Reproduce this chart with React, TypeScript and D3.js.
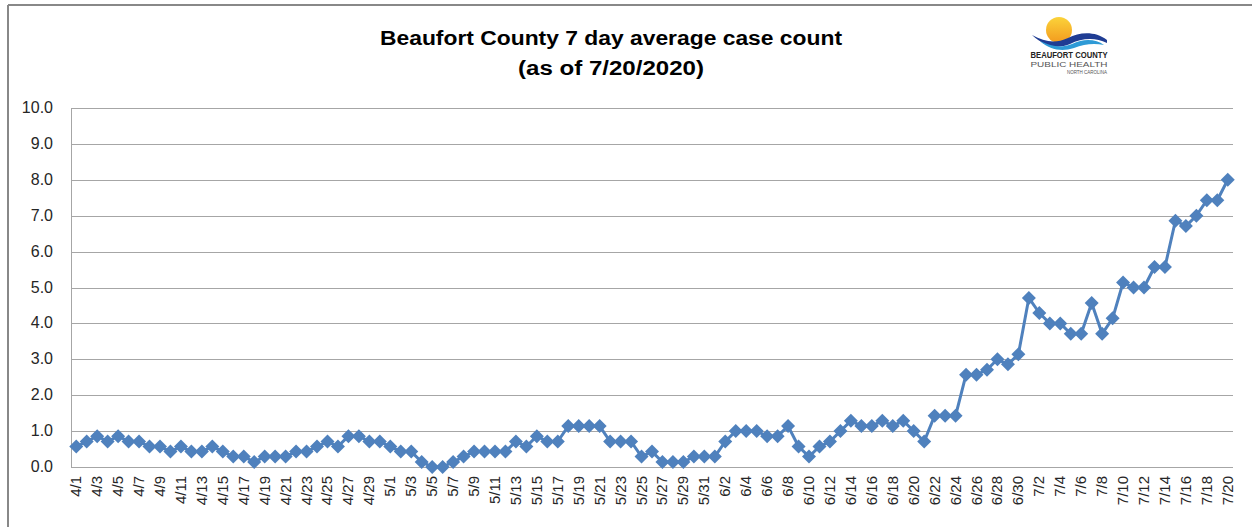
import React from 'react'
import * as d3 from 'd3'

// 7 day average, 4/1 .. 7/20
const aprilValues = [0.57, 0.71, 0.86, 0.71, 0.86, 0.71, 0.71, 0.57, 0.57, 0.43, 0.57, 0.43, 0.43, 0.57, 0.43, 0.29, 0.29, 0.14, 0.29, 0.29, 0.29, 0.43, 0.43, 0.57, 0.71, 0.57, 0.86, 0.86, 0.71, 0.71]
const mayValues = [0.57, 0.43, 0.43, 0.14, 0, 0, 0.14, 0.29, 0.43, 0.43, 0.43, 0.43, 0.71, 0.57, 0.86, 0.71, 0.71, 1.14, 1.14, 1.14, 1.14, 0.71, 0.71, 0.71, 0.29, 0.43, 0.14, 0.14, 0.14, 0.29, 0.29]
const juneValues = [0.29, 0.71, 1.0, 1.0, 1.0, 0.86, 0.86, 1.14, 0.57, 0.29, 0.57, 0.71, 1.0, 1.29, 1.14, 1.14, 1.29, 1.14, 1.29, 1.0, 0.71, 1.43, 1.43, 1.43, 2.57, 2.57, 2.71, 3.0, 2.86, 3.14]
const julyValues = [4.71, 4.29, 4.0, 4.0, 3.71, 3.71, 4.57, 3.71, 4.14, 5.14, 5.0, 5.0, 5.57, 5.57, 6.86, 6.71, 7.0, 7.43, 7.43, 8.0]

const months = [4, 5, 6, 7]
const monthValues = [aprilValues, mayValues, juneValues, julyValues]

const dates: string[] = []
const values: number[] = []
monthValues.forEach((arr, m) => {
  arr.forEach((v, i) => {
    dates.push(months[m] + '/' + (i + 1))
    values.push(v)
  })
})

const yTicks = [0, 1, 2, 3, 4, 5, 6, 7, 8, 9, 10]

const titleLines = ['Beaufort County 7 day average case count', '(as of 7/20/2020)']

const W = 1252
const H = 527
const margin = { left: 71, right: 19, top: 108, bottom: 60 }
const blue = '#4F81BD'
const font = '"Liberation Sans", Arial, sans-serif'

export default function App() {
  const x = d3.scaleBand<string>()
    .domain(dates)
    .range([margin.left, W - margin.right])
    .padding(0)
  const y = d3.scaleLinear()
    .domain([0, 10])
    .range([H - margin.bottom, margin.top])

  const cx = (d: string) => (x(d) as number) + x.bandwidth() / 2

  const line = d3.line<number>()
    .x((d, i) => cx(dates[i]))
    .y(d => y(d))

  const r = 7
  const diamond = `M0,${-r}L${r},0L0,${r}L${-r},0Z`

  return (
    <svg width={W} height={H} style={{ position: 'absolute', left: 0, top: 0, background: '#fff' }}>
      {/* outer frame */}
      <line x1={8} x2={W} y1={5} y2={5} stroke="#888" strokeWidth={2} />
      <line x1={8} x2={8} y1={5} y2={H} stroke="#888" strokeWidth={2} />

      {/* title */}
      {titleLines.map((t, i) => (
        <text key={t} x={611} y={45 + i * 30} textAnchor="middle"
          fontFamily={font} fontWeight="bold" fontSize={20} fill="#000"
          textLength={i === 0 ? 462 : 186} lengthAdjust="spacingAndGlyphs">{t}</text>
      ))}

      {/* logo */}
      <g>
        <defs>
          <linearGradient id="sun" x1="0" y1="0" x2="0" y2="1">
            <stop offset="0" stopColor="#FBD33A" />
            <stop offset="1" stopColor="#F39A1E" />
          </linearGradient>
        </defs>
        <circle cx={1059} cy={30} r={13} fill="url(#sun)" />
        <path d="M1032,35 C1045,42 1055,44 1068,38 C1080,32 1095,31 1107,40 L1107,43 C1095,37 1082,38 1070,44 C1056,50 1044,46 1032,35Z" fill="#1F3C93" />
        <path d="M1040,41 C1052,47 1062,48 1072,44 C1084,38 1096,39 1104,45 C1094,43 1084,44 1074,48 C1062,52 1050,50 1040,41Z" fill="#2E9AD6" />
        <text x={1069} y={58} textAnchor="middle" fontFamily={font} fontWeight="bold" fontSize={9} fill="#222" textLength={77} lengthAdjust="spacingAndGlyphs">BEAUFORT COUNTY</text>
        <text x={1069} y={67} textAnchor="middle" fontFamily={font} fontSize={8} fill="#555" textLength={77} lengthAdjust="spacingAndGlyphs">PUBLIC HEALTH</text>
        <text x={1107} y={74} textAnchor="end" fontFamily={font} fontSize={5} fill="#555" textLength={40} lengthAdjust="spacingAndGlyphs">NORTH CAROLINA</text>
      </g>

      {/* gridlines */}
      {yTicks.map(t => (
        <g key={t}>
          <line x1={margin.left} x2={W - margin.right} y1={Math.round(y(t)) + 0.5} y2={Math.round(y(t)) + 0.5}
            stroke="#A6A6A6" strokeWidth={1} />
          <text x={53} y={y(t) + 5} textAnchor="end" fontFamily={font} fontSize={16} fill="#262626">
            {t.toFixed(1)}
          </text>
        </g>
      ))}
      <line x1={margin.left + 0.5} x2={margin.left + 0.5} y1={y(10)} y2={y(0)} stroke="#A6A6A6" />

      {/* x labels */}
      {dates.map((d, i) => i % 2 === 0 ? (
        <text key={d} transform={`translate(${cx(d) + 5},${y(0) + 9}) rotate(-90)`}
          textAnchor="end" fontFamily={font} fontSize={15} fill="#262626">{d}</text>
      ) : null)}

      {/* series */}
      <path d={line(values) || ''} fill="none" stroke={blue} strokeWidth={3} strokeLinejoin="round" />
      {values.map((v, i) => (
        <path key={i} d={diamond} transform={`translate(${cx(dates[i])},${y(v)})`} fill={blue} />
      ))}
    </svg>
  )
}
